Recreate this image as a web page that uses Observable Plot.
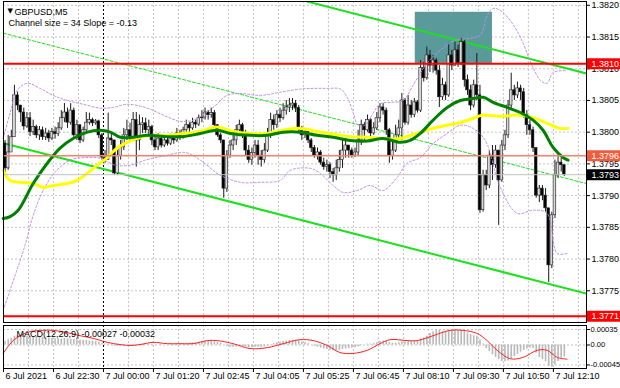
<!DOCTYPE html>
<html><head><meta charset="utf-8">
<script src="https://cdn.jsdelivr.net/npm/d3@7"></script>
<script src="https://cdn.jsdelivr.net/npm/@observablehq/plot@0.6"></script>
<style>
body{margin:0;background:#fff;}
#chart{position:relative;width:620px;height:388px;overflow:hidden;background:#fff;}
#chart svg{position:absolute;left:0;}
</style></head><body><div id="chart"></div>
<script>
// ---------- data ----------
const firstOpen = 1.37982;
const closes = [
1.37943,1.37968,1.37992,1.38058,1.38042,1.38031,1.38009,1.38022,1.38000,1.38008,
1.37995,1.38003,1.37992,1.37998,1.37990,1.38000,1.37997,1.38006,1.38022,1.38031,
1.38015,1.38034,1.37995,1.38011,1.37987,1.38003,1.38015,1.38019,1.38014,1.38017,
1.37995,1.37960,1.37956,1.37990,1.37987,1.37935,1.37963,1.37976,1.37995,1.38003,
1.37992,1.38019,1.37987,1.38011,1.38014,1.38003,1.38008,1.37987,1.37976,1.37990,
1.37979,1.37987,1.37982,1.37990,1.37987,1.37998,1.37992,1.38003,1.38011,1.38006,
1.38015,1.38012,1.38022,1.38023,1.38031,1.38027,1.38030,1.38011,1.37995,1.37987,
1.37911,1.37963,1.37979,1.37987,1.38003,1.38011,1.37998,1.37971,1.37956,1.37967,
1.37979,1.37963,1.37956,1.37971,1.37995,1.38019,1.38011,1.38027,1.38022,1.38034,
1.38039,1.38042,1.38045,1.38038,1.38006,1.37995,1.38000,1.37987,1.37975,1.37963,
1.37968,1.37952,1.37945,1.37948,1.37937,1.37932,1.37943,1.37956,1.37971,1.37979,
1.37971,1.37963,1.37968,1.37987,1.38011,1.38003,1.38019,1.37998,1.38006,1.38022,
1.38039,1.38034,1.38003,1.37963,1.37971,1.37995,1.38006,1.38050,1.38015,1.38042,
1.38027,1.38047,1.38034,1.38101,1.38085,1.38121,1.38105,1.38113,1.38097,1.38055,
1.38074,1.38058,1.38121,1.38105,1.38129,1.38109,1.38142,1.38082,1.38066,1.38042,
1.38074,1.38058,1.37877,1.37932,1.37916,1.37963,1.37948,1.37971,1.37924,1.37979,
1.37995,1.38042,1.38066,1.38058,1.38069,1.38063,1.38027,1.38011,1.38003,1.37975,
1.37900,1.37911,1.37900,1.37880,1.37790,1.37869,1.37932,1.37952,1.37948,1.37933];
const highs = [
1.37987,1.37995,1.38003,1.38074,1.38063,1.38042,1.38038,1.38031,1.38031,1.38019,
1.38011,1.38009,1.38008,1.38006,1.38003,1.38006,1.38008,1.38015,1.38034,1.38045,
1.38038,1.38045,1.38038,1.38019,1.38011,1.38008,1.38031,1.38030,1.38022,1.38020,
1.38019,1.37998,1.37971,1.38030,1.37998,1.37987,1.37971,1.37987,1.38006,1.38019,
1.38014,1.38031,1.38031,1.38027,1.38023,1.38022,1.38019,1.38011,1.37995,1.37998,
1.37995,1.37992,1.37990,1.37997,1.37993,1.38006,1.38003,1.38008,1.38019,1.38015,
1.38022,1.38019,1.38027,1.38034,1.38038,1.38034,1.38038,1.38034,1.38012,1.37998,
1.37987,1.37971,1.37987,1.37995,1.38011,1.38019,1.38014,1.38003,1.37979,1.37975,
1.37987,1.37987,1.37971,1.37982,1.38006,1.38030,1.38027,1.38034,1.38038,1.38045,
1.38050,1.38053,1.38053,1.38050,1.38042,1.38009,1.38006,1.38003,1.37990,1.37979,
1.37975,1.37971,1.37959,1.37956,1.37952,1.37943,1.37956,1.37971,1.37987,1.37990,
1.37979,1.37975,1.37975,1.38003,1.38019,1.38015,1.38027,1.38022,1.38015,1.38031,
1.38045,1.38045,1.38038,1.38006,1.37987,1.38011,1.38019,1.38061,1.38053,1.38058,
1.38050,1.38053,1.38050,1.38113,1.38110,1.38134,1.38129,1.38121,1.38116,1.38105,
1.38085,1.38079,1.38140,1.38129,1.38142,1.38137,1.38148,1.38145,1.38090,1.38074,
1.38082,1.38124,1.38074,1.37940,1.37940,1.37971,1.37979,1.37979,1.37971,1.37987,
1.38003,1.38050,1.38093,1.38074,1.38079,1.38074,1.38069,1.38034,1.38019,1.38008,
1.37971,1.37916,1.37916,1.37911,1.37880,1.37874,1.37956,1.37963,1.37959,1.37948];
const lows = [
1.37932,1.37940,1.37968,1.37992,1.38034,1.38015,1.38003,1.38006,1.37993,1.37995,
1.37990,1.37987,1.37987,1.37987,1.37984,1.37987,1.37989,1.37993,1.38003,1.38015,
1.38006,1.38011,1.37992,1.37987,1.37982,1.37984,1.38000,1.38011,1.38009,1.38011,
1.37990,1.37956,1.37951,1.37956,1.37979,1.37932,1.37932,1.37956,1.37971,1.37987,
1.37984,1.37987,1.37945,1.37971,1.37998,1.37998,1.37995,1.37979,1.37971,1.37971,
1.37975,1.37976,1.37978,1.37979,1.37981,1.37984,1.37987,1.37989,1.38000,1.37998,
1.38003,1.38006,1.38009,1.38015,1.38019,1.38019,1.38022,1.38008,1.37992,1.37982,
1.37896,1.37905,1.37959,1.37971,1.37979,1.37995,1.37990,1.37963,1.37951,1.37948,
1.37959,1.37948,1.37945,1.37951,1.37968,1.37990,1.38003,1.38006,1.38015,1.38019,
1.38027,1.38031,1.38034,1.38031,1.38000,1.37987,1.37990,1.37982,1.37968,1.37959,
1.37956,1.37948,1.37940,1.37937,1.37927,1.37921,1.37924,1.37937,1.37943,1.37959,
1.37959,1.37959,1.37960,1.37963,1.37979,1.37987,1.38000,1.37993,1.37995,1.38003,
1.38015,1.38027,1.37995,1.37951,1.37956,1.37968,1.37987,1.37987,1.38011,1.38011,
1.38022,1.38023,1.38030,1.38031,1.38079,1.38082,1.38094,1.38093,1.38090,1.38039,
1.38050,1.38050,1.38055,1.38097,1.38104,1.38102,1.38105,1.38071,1.38058,1.38034,
1.38038,1.38050,1.37872,1.37874,1.37908,1.37911,1.37924,1.37943,1.37853,1.37921,
1.37971,1.37990,1.38034,1.38050,1.38053,1.38050,1.38022,1.37995,1.37995,1.37968,
1.37896,1.37889,1.37892,1.37874,1.37763,1.37785,1.37864,1.37927,1.37937,1.37930];

// moving averages / bands read at sample bars
const greenBars = [-0.6,1.6,4.2,9.0,13.5,17.6,21.8,26.3,30.4,33.7,36.9,41.0,45.5,51.9,57.0,62.5,67.9,72.1,78.5,83.9,89.0,94.5,99.9,105.0,110.5,115.9,121.0,126.5,129.7,132.9,137.0,141.5,145.7,149.8,153.1,156.2,160.7,164.9,169.0,172.2,175.4,178.6,180.2];
const greenVals = [1.37864,1.37867,1.37877,1.37919,1.37951,1.37975,1.37990,1.38000,1.38003,1.38000,1.37992,1.37992,1.37995,1.37993,1.37993,1.37998,1.38003,1.37998,1.37995,1.37995,1.38000,1.38000,1.37995,1.37992,1.37987,1.37986,1.37990,1.37984,1.37987,1.37998,1.38019,1.38039,1.38050,1.38053,1.38055,1.38047,1.38039,1.38031,1.38019,1.38003,1.37976,1.37960,1.37956];
const yellowBars = [-0.6,1.6,4.8,9.0,12.2,15.4,19.9,23.1,26.3,29.5,32.7,35.9,39.1,43.3,47.4,51.9,57.0,62.5,67.9,73.0,78.5,83.9,89.0,94.5,99.9,105.0,110.5,115.9,121.0,126.5,129.7,132.9,137.0,141.5,145.7,149.8,153.1,158.5,164.0,169.0,173.5,177.6,180.2];
const yellowVals = [1.37940,1.37924,1.37921,1.37919,1.37913,1.37916,1.37919,1.37924,1.37935,1.37948,1.37960,1.37975,1.37984,1.37992,1.37995,1.37995,1.37998,1.38001,1.38008,1.38001,1.37998,1.37998,1.38003,1.38006,1.38001,1.37997,1.37993,1.37992,1.37990,1.37990,1.37995,1.38000,1.38006,1.38011,1.38015,1.38022,1.38027,1.38025,1.38027,1.38023,1.38014,1.38006,1.38006];
const upperBars = [-0.6,1.6,3.9,7.1,11.2,15.4,19.9,25.0,30.4,34.6,39.1,45.5,50.6,56.1,60.2,64.1,67.3,71.1,75.3,81.7,88.1,94.5,98.6,103.1,107.3,109.5,111.4,113.0,115.3,117.8,120.1,123.3,127.4,130.6,135.1,139.3,144.1,148.8,152.1,154.3,156.2,158.5,161.7,164.9,169.0,171.3,173.5,175.4,179.9];
const upperVals = [1.37990,1.38030,1.38066,1.38077,1.38069,1.38058,1.38050,1.38044,1.38038,1.38039,1.38044,1.38038,1.38027,1.38017,1.38019,1.38030,1.38042,1.38058,1.38061,1.38058,1.38063,1.38068,1.38069,1.38069,1.38068,1.38055,1.38031,1.38011,1.38011,1.38030,1.38045,1.38047,1.38050,1.38074,1.38109,1.38129,1.38145,1.38148,1.38153,1.38184,1.38195,1.38192,1.38176,1.38150,1.38102,1.38082,1.38077,1.38094,1.38097];
const lowerBars = [-0.6,3.2,6.4,9.0,12.2,16.0,20.8,25.6,30.4,35.3,40.1,44.9,51.3,57.7,62.5,68.9,75.3,81.7,88.1,91.3,97.7,100.9,105.0,108.2,112.7,116.9,121.0,125.5,128.7,132.9,137.0,141.5,145.7,149.8,153.7,158.5,164.0,169.0,173.5,176.7,179.9];
const lowerVals = [1.37719,1.37774,1.37822,1.37869,1.37908,1.37937,1.37956,1.37960,1.37959,1.37948,1.37948,1.37956,1.37963,1.37968,1.37956,1.37932,1.37921,1.37921,1.37924,1.37940,1.37943,1.37935,1.37916,1.37905,1.37908,1.37916,1.37908,1.37929,1.37951,1.37960,1.37982,1.37998,1.38011,1.38006,1.37987,1.37913,1.37872,1.37877,1.37872,1.37809,1.37809];

// channel (middle line end points, half width)
const channelBars = [-0.5, 186.1];
const channelMid = [1.38156, 1.37919];
const channelHalf = 0.001735;

// zone rectangle
const zoneBars = [131.3, 156.0];
const zonePrices = [1.38108, 1.38189];

// horizontal levels
const levelPrices = [1.38108, 1.37963, 1.37933, 1.37710];
const levelLabels = ["1.3810", "1.3796", "1.3793", "1.3771"];

// MACD(12,26,9)
const macdMain = [
0.00008,0.00012,0.00015,0.00020,0.00021,0.00021,0.00021,0.00020,0.00019,0.00019,
0.00018,0.00018,0.00017,0.00016,0.00016,0.00015,0.00014,0.00014,0.00014,0.00015,
0.00014,0.00013,0.00012,0.00012,0.00011,0.00010,0.00010,0.00009,0.00009,0.00008,
0.00006,0.00004,0.00002,0.00002,0.00001,-0.00002,-0.00003,-0.00002,-0.00001,0.00000,
-0.00001,0.00001,0.00000,0.00001,0.00002,0.00002,0.00002,0.00001,0.00000,0.00000,
-0.00001,0.00000,0.00000,0.00001,0.00001,0.00001,0.00002,0.00003,0.00004,0.00004,
0.00005,0.00005,0.00006,0.00007,0.00008,0.00008,0.00008,0.00007,0.00006,0.00004,
0.00000,-0.00003,-0.00005,-0.00005,-0.00005,-0.00004,-0.00004,-0.00005,-0.00006,-0.00006,
-0.00005,-0.00005,-0.00005,-0.00004,-0.00002,0.00001,0.00003,0.00005,0.00006,0.00008,
0.00009,0.00010,0.00011,0.00011,0.00009,0.00007,0.00005,0.00003,0.00000,-0.00003,
-0.00005,-0.00007,-0.00009,-0.00010,-0.00012,-0.00013,-0.00013,-0.00012,-0.00010,-0.00009,
-0.00008,-0.00007,-0.00006,-0.00004,-0.00001,0.00000,0.00002,0.00002,0.00003,0.00005,
0.00008,0.00009,0.00008,0.00005,0.00004,0.00004,0.00005,0.00007,0.00007,0.00008,
0.00008,0.00009,0.00010,0.00014,0.00016,0.00020,0.00026,0.00030,0.00034,0.00033,
0.00031,0.00030,0.00032,0.00033,0.00034,0.00033,0.00033,0.00030,0.00027,0.00024,
0.00021,0.00020,0.00012,0.00002,-0.00008,-0.00015,-0.00022,-0.00028,-0.00033,-0.00037,
-0.00038,-0.00036,-0.00032,-0.00026,-0.00021,-0.00016,-0.00012,-0.00009,-0.00007,-0.00008,
-0.00018,-0.00028,-0.00033,-0.00038,-0.00048,-0.00050,-0.00045,-0.00037,-0.00030,-0.00027];
const signalBars = [-0.6,2.6,7.0,11.2,15.4,19.8,24.0,28.2,32.7,36.8,40.0,43.2,47.4,51.9,56.0,60.2,64.7,67.9,73.0,78.4,83.9,89.0,94.4,98.6,103.1,107.2,111.4,115.9,120.0,123.2,128.7,131.9,137.0,142.4,146.6,151.1,154.3,157.5,161.7,165.8,170.3,173.5,176.7,179.9];
const signalVals = [-0.00019,0.00010,0.00028,0.00033,0.00033,0.00028,0.00021,0.00015,0.00006,0.00001,-0.00001,0.00001,0.00006,0.00003,0.00003,0.00003,0.00010,0.00010,0.00003,-0.00008,-0.00006,0.00003,0.00012,0.00010,-0.00001,-0.00017,-0.00019,-0.00012,0.00003,0.00012,0.00010,0.00010,0.00021,0.00033,0.00033,0.00026,0.00010,-0.00012,-0.00031,-0.00028,-0.00012,-0.00012,-0.00028,-0.00032];

// axes
const priceTicks = [1.3775,1.3780,1.3785,1.3790,1.3795,1.3800,1.3805,1.3810,1.3815,1.3820];
const macdTicks = [0.00035, 0, -0.00045];
const macdTickLabels = ["0.00035", "0.00", "-0.00045"];
const timeBars = [0,16,32,48,64,80,96,112,128,144,160,176];
const timeLabels = ["6 Jul 2021","6 Jul 22:30","7 Jul 00:00","7 Jul 01:20","7 Jul 02:45","7 Jul 04:05","7 Jul 05:25","7 Jul 06:45","7 Jul 08:10","7 Jul 09:30","7 Jul 10:50","7 Jul 12:10"];
const daySeparatorBar = 32;

// ---------- build ----------
const FONT = "'Liberation Sans', Arial, sans-serif";
const xDomain = [-0.5, 186.1];
const candles = closes.map((c, i) => {
  const o = i ? closes[i - 1] : firstOpen;
  return {i, o, c, h: Math.max(highs[i], o, c), l: Math.min(lows[i], o, c)};
});
const pts = (bs, vs) => bs.map((b, k) => ({b, v: vs[k]}));
const chan = off => channelBars.map((b, k) => ({b, v: channelMid[k] + off}));
const gridBars = d3.range(8, 187, 8).filter(b => b !== daySeparatorBar);

const levelColors = ["#ff0000", "#f25c3c", "#000000", "#ff0000"];
const levelLineColors = ["#ff0000", "#f4826e", "#c0c0c0", "#ff0000"];
const levelWidths = [2, 1.5, 1, 2];

const levelLines = levelPrices.map((p, k) =>
  Plot.ruleY([p], {stroke: levelLineColors[k], strokeWidth: levelWidths[k]}));
const levelBoxes = levelPrices.map((p, k) =>
  Plot.ruleY([p], {stroke: levelColors[k], strokeWidth: 11, insetLeft: 584, insetRight: -34}));
const levelTexts = levelPrices.map((p, k) =>
  Plot.text([levelLabels[k]], {y: () => p, text: d => d, frameAnchor: "right", textAnchor: "start", dx: 5, fill: "#fff"}));

const main = Plot.plot({
  width: 620, height: 323,
  marginLeft: 3, marginRight: 34, marginTop: 1, marginBottom: 1,
  x: {domain: xDomain, axis: null},
  y: {domain: [1.37700, 1.38206], axis: null},
  style: {fontFamily: FONT, fontSize: "9px", background: "#fff", overflow: "visible"},
  marks: [
    Plot.ruleY(priceTicks, {stroke: "#c4c4c4", strokeDasharray: "2,2"}),
    Plot.ruleX(gridBars, {x: d => d - 0.5, stroke: "#c4c4c4", strokeDasharray: "2,2"}),
    Plot.ruleX([daySeparatorBar], {x: d => d - 0.5, stroke: "#000", strokeDasharray: "2,2"}),
    Plot.rect([0], {x1: () => zoneBars[0], x2: () => zoneBars[1], y1: () => zonePrices[0], y2: () => zonePrices[1], fill: "#5a9a9b"}),
    Plot.line(chan(0), {x: "b", y: "v", stroke: "#1ee01e", strokeWidth: 1, strokeDasharray: "3,2", clip: true}),
    Plot.line(chan(channelHalf), {x: "b", y: "v", stroke: "#1ee01e", strokeWidth: 2, clip: true}),
    Plot.line(chan(-channelHalf), {x: "b", y: "v", stroke: "#1ee01e", strokeWidth: 2, clip: true}),
    Plot.ruleX(candles, {x: "i", y1: "l", y2: "h", stroke: "#1a1a1a", strokeWidth: 1}),
    Plot.rect(candles, {x1: d => d.i - 0.42, x2: d => d.i + 0.42, y1: "o", y2: "c",
      fill: d => d.c >= d.o ? "#d9d9d9" : "#000", stroke: "#222", strokeWidth: 0.6}),
    Plot.line(pts(upperBars, upperVals), {x: "b", y: "v", stroke: "#c28ce8", strokeWidth: 1, strokeDasharray: "2,2", curve: "catmull-rom"}),
    Plot.line(pts(lowerBars, lowerVals), {x: "b", y: "v", stroke: "#c28ce8", strokeWidth: 1, strokeDasharray: "2,2", curve: "catmull-rom", clip: true}),
    Plot.line(pts(yellowBars, yellowVals), {x: "b", y: "v", stroke: "#ffff00", strokeWidth: 3, curve: "catmull-rom"}),
    Plot.line(pts(greenBars, greenVals), {x: "b", y: "v", stroke: "#008000", strokeWidth: 3, curve: "catmull-rom"}),
    ...levelLines,
    Plot.frame({stroke: "#000"}),
    Plot.ruleY(priceTicks, {insetLeft: 583, insetRight: -4, stroke: "#000"}),
    Plot.text(priceTicks, {y: d => d, text: d => d3.format(".4f")(d), frameAnchor: "right", textAnchor: "start", dx: 5, fill: "#000"}),
    ...levelBoxes,
    ...levelTexts,
    Plot.text(["\u25BC"], {frameAnchor: "top-left", dx: 4, dy: 7, textAnchor: "start", fontSize: 7, fontFamily: "'DejaVu Sans'"}),
    Plot.text(["GBPUSD,M5"], {frameAnchor: "top-left", dx: 11, dy: 7, textAnchor: "start", fill: "#000"}),
    Plot.text(["Channel size = 34 Slope = -0.13"], {frameAnchor: "top-left", dx: 5, dy: 18, textAnchor: "start", fill: "#000"})
  ]
});
main.style.top = "0px";

const macdRows = macdMain.map((v, i) => ({i, v}));
const macd = Plot.plot({
  width: 620, height: 65,
  marginLeft: 3, marginRight: 34, marginTop: 2, marginBottom: 20,
  x: {domain: xDomain, axis: null},
  y: {domain: [-0.00053, 0.00044], axis: null},
  style: {fontFamily: FONT, fontSize: "9px", background: "#fff", overflow: "visible"},
  marks: [
    Plot.ruleY(macdTicks, {stroke: "#c4c4c4", strokeDasharray: "2,2"}),
    Plot.ruleX(gridBars, {x: d => d - 0.5, stroke: "#c4c4c4", strokeDasharray: "2,2"}),
    Plot.ruleX([daySeparatorBar], {x: d => d - 0.5, stroke: "#000", strokeDasharray: "2,2"}),
    Plot.ruleX(macdRows, {x: "i", y1: 0, y2: "v", stroke: "#b8b8b8", strokeWidth: 1.6}),
    Plot.line(pts(signalBars, signalVals), {x: "b", y: "v", stroke: "#ff2020", strokeWidth: 1, curve: "catmull-rom"}),
    Plot.frame({stroke: "#000"}),
    Plot.ruleY(macdTicks, {insetLeft: 583, insetRight: -4, stroke: "#000"}),
    Plot.text(macdTicks, {y: d => d, text: (d, k) => macdTickLabels[k], frameAnchor: "right", textAnchor: "start", dx: 4, fontSize: 7.5, fill: "#000"}),
    Plot.ruleX(timeBars, {x: d => d - 0.5, insetTop: 43, insetBottom: -4, stroke: "#000"}),
    Plot.text(timeBars, {x: d => d - 0.5, text: (d, k) => timeLabels[k], frameAnchor: "bottom", textAnchor: "start", dx: 2, dy: 10, fill: "#000"}),
    Plot.text(["MACD(12,26,9) -0.00027 -0.00032"], {frameAnchor: "top-left", dx: 13, dy: 5, textAnchor: "start", fill: "#000"})
  ]
});
macd.style.top = "323px";

const root = document.getElementById("chart");
root.appendChild(main);
root.appendChild(macd);
</script></body></html>
